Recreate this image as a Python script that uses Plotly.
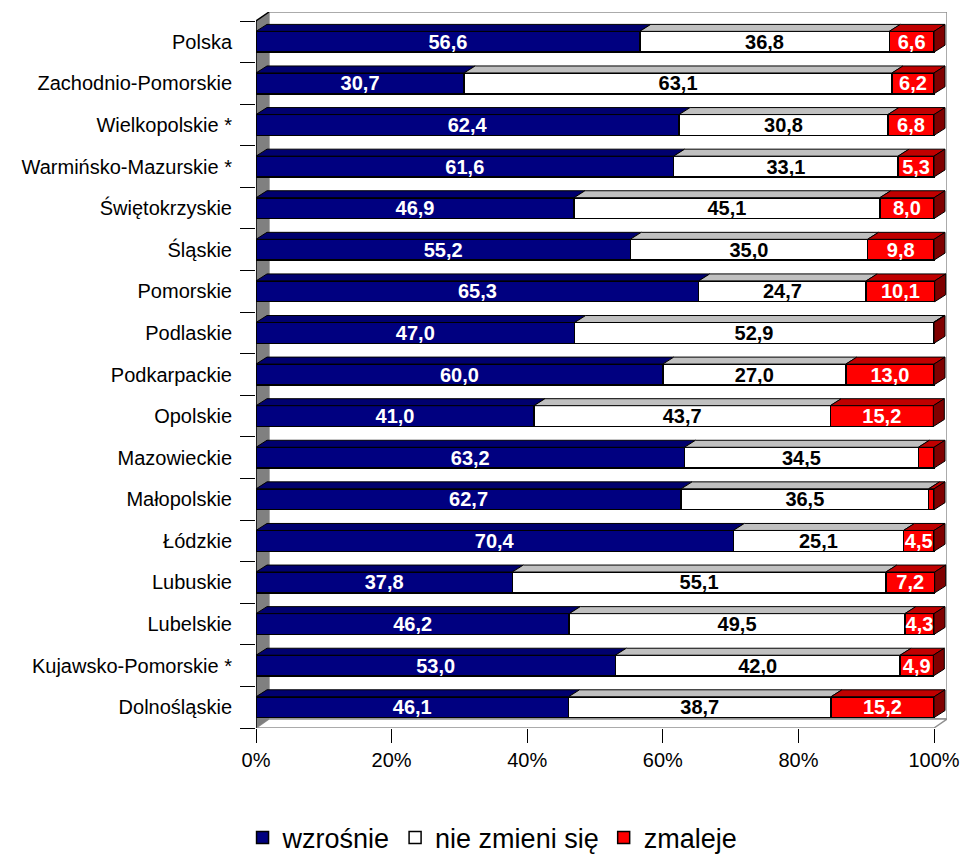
import plotly.graph_objects as go

categories = ["Polska", "Zachodnio-Pomorskie", "Wielkopolskie *", "Warmińsko-Mazurskie *",
              "Świętokrzyskie", "Śląskie", "Pomorskie", "Podlaskie", "Podkarpackie", "Opolskie",
              "Mazowieckie", "Małopolskie", "Łódzkie", "Lubuskie", "Lubelskie",
              "Kujawsko-Pomorskie *", "Dolnośląskie"]
wzrosnie = [56.6, 30.7, 62.4, 61.6, 46.9, 55.2, 65.3, 47.0, 60.0, 41.0, 63.2, 62.7, 70.4, 37.8, 46.2, 53.0, 46.1]
nie_zmieni = [36.8, 63.1, 30.8, 33.1, 45.1, 35.0, 24.7, 52.9, 27.0, 43.7, 34.5, 36.5, 25.1, 55.1, 49.5, 42.0, 38.7]
zmaleje = [6.6, 6.2, 6.8, 5.3, 8.0, 9.8, 10.1, 0.1, 13.0, 15.2, 2.3, 0.8, 4.5, 7.2, 4.3, 4.9, 15.2]
series_names = ["wzrośnie", "nie zmieni się", "zmaleje"]
x_ticks = [0, 20, 40, 60, 80, 100]

series = [wzrosnie, nie_zmieni, zmaleje]
front_cols = ["#000080", "#FFFFFF", "#FF0000"]
top_cols = ["#00006E", "#C0C0C0", "#C00000"]
side_col = "#800000"
text_cols = ["white", "black", "white"]

# geometry (pixels -> data units)
W, H = 962, 856
ml, mt, mb = 256, 12, 128
px_per_x = 6.78
px_per_cat = 41.6
wall_dx = 13 / px_per_x
wall_dy = 9 / px_per_cat
bar_dx = 11 / px_per_x
bar_dy = 7 / px_per_cat
bw = 0.5
n = len(categories)
ypos = list(range(n))
xmax = 100 + wall_dx
plot_w = xmax * px_per_x
mr = W - ml - plot_w
plot_h = H - mt - mb

fig = go.Figure()
for k, (vals, name) in enumerate(zip(series, series_names)):
    labels = [f"{v:.1f}".replace(".", ",") if v >= 4 else "" for v in vals]
    fig.add_trace(go.Bar(
        y=ypos, x=vals, orientation="h", name=name, width=bw,
        marker=dict(color=front_cols[k], line=dict(color="black", width=1.5)),
        text=labels, textposition="inside", insidetextanchor="middle",
        textfont=dict(family="Liberation Sans, Arial", size=20, color=text_cols[k], weight="bold"),
        textangle=0, hoverinfo="skip",
    ))

shapes = []
# back wall
shapes.append(dict(type="rect", xref="x", yref="y", x0=wall_dx, x1=100 + wall_dx,
                   y0=-0.5 - wall_dy, y1=n - 0.5 - wall_dy,
                   line=dict(color="#909090", width=1.5), fillcolor="white", layer="below"))
# floor
yb = n - 0.5
shapes.append(dict(type="path", xref="x", yref="y",
                   path=f"M0,{yb} L100,{yb} L{100 + wall_dx},{yb - wall_dy} L{wall_dx},{yb - wall_dy} Z",
                   line=dict(color="#909090", width=1.5), fillcolor="white", layer="below"))
# left wall
shapes.append(dict(type="path", xref="x", yref="y",
                   path=f"M0,{yb} L0,-0.5 L{wall_dx},{-0.5 - wall_dy} L{wall_dx},{yb - wall_dy} Z",
                   line=dict(color="#808080", width=0), fillcolor="#808080", layer="below"))
# front-left edge and top diagonal
shapes.append(dict(type="line", xref="x", yref="y", x0=0, x1=0, y0=-0.5, y1=yb,
                   line=dict(color="black", width=1.5), layer="above"))
shapes.append(dict(type="line", xref="x", yref="y", x0=0, x1=wall_dx, y0=-0.5, y1=-0.5 - wall_dy,
                   line=dict(color="black", width=1.5), layer="above"))

# 3D faces of bars
for i in range(n):
    ytop = i - bw / 2
    ybot = i + bw / 2
    cum = 0.0
    for k, vals in enumerate(series):
        x0 = cum
        x1 = cum + vals[i]
        cum = x1
        shapes.append(dict(type="path", xref="x", yref="y",
                           path=f"M{x0},{ytop} L{x0 + bar_dx},{ytop - bar_dy} L{x1 + bar_dx},{ytop - bar_dy} L{x1},{ytop} Z",
                           line=dict(color="black", width=1), fillcolor=top_cols[k], layer="above"))
    shapes.append(dict(type="path", xref="x", yref="y",
                       path=f"M{cum},{ytop} L{cum + bar_dx},{ytop - bar_dy} L{cum + bar_dx},{ybot - bar_dy} L{cum},{ybot} Z",
                       line=dict(color="black", width=1), fillcolor=side_col, layer="above"))

fig.update_layout(
    template="none",
    width=W, height=H,
    margin=dict(l=ml, r=mr, t=mt, b=mb, pad=0, autoexpand=False),
    barmode="stack",
    plot_bgcolor="white", paper_bgcolor="white",
    font=dict(family="Liberation Sans, Arial", size=20, color="black"),
    shapes=shapes,
    uniformtext=dict(minsize=20, mode="show"),
    showlegend=True,
    legend=dict(orientation="h", xref="container", yref="paper", x=0.512, y=-(838 - (H - mb)) / plot_h,
                xanchor="center", yanchor="middle",
                font=dict(family="Liberation Sans, Arial", size=27, color="black"),
                traceorder="normal", bgcolor="rgba(0,0,0,0)", itemwidth=30),
    xaxis=dict(range=[0, xmax], tickmode="array", tickvals=x_ticks, automargin=False,
               ticktext=[f"{t}%" for t in x_ticks], ticks="outside", ticklen=14,
               tickcolor="black", tickwidth=1, showgrid=False, zeroline=False, showline=False,
               tickfont=dict(size=20), fixedrange=True),
    yaxis=dict(range=[n - 0.5, -0.5 - wall_dy], tickmode="array", tickvals=ypos, automargin=False,
               ticktext=categories, ticks="outside", ticklen=19, tickcolor="rgba(0,0,0,0)",
               showgrid=False, zeroline=False, showline=False, tickfont=dict(size=20),
               minor=dict(tickmode="array", tickvals=[i - 0.5 for i in range(n + 1)],
                          ticks="outside", ticklen=15, tickcolor="black", tickwidth=1),
               fixedrange=True),
)

fig.write_html("out.html", config={"displayModeBar": False},
               post_script="document.body.style.margin='0px';document.body.style.overflow='hidden';")
